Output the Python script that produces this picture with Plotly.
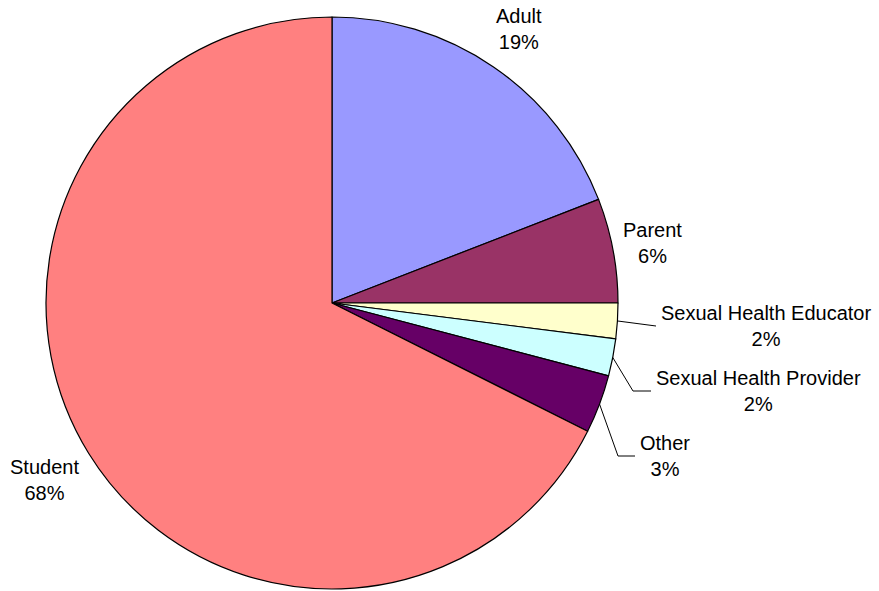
import math
import plotly.graph_objects as go

# Share of respondents by role (percent)
categories = ["Adult", "Parent", "Sexual Health Educator", "Sexual Health Provider", "Other", "Student"]
shares = [19.1, 5.9, 2.0, 2.1, 3.3, 67.6]
colors = ["#9999FF", "#993366", "#FFFFCC", "#CCFFFF", "#660066", "#FF8080"]

W, H = 879, 591
CX, CY, R = 332, 303, 286  # pie centre and radius in pixels

# Label placement: ("radial", factor) puts the label along the slice's mid-angle;
# ("leader", elbow, end) draws a leader line from the slice edge to the label.
label_layout = {
    "Adult": ("radial", 1.16),
    "Parent": ("radial", 1.14),
    "Student": ("radial", 1.18),
    "Sexual Health Educator": ("leader", None, (656, 326)),
    "Sexual Health Provider": ("leader", (633, 391), (651, 391)),
    "Other": ("leader", (618, 456), (635, 456)),
}


def px_to_paper(x, y):
    return x / W, 1 - y / H


def polar(theta_deg, r):
    t = math.radians(theta_deg)
    return CX + r * math.sin(t), CY - r * math.cos(t)


fig = go.Figure(
    go.Pie(
        labels=categories,
        values=shares,
        sort=False,
        direction="clockwise",
        rotation=0,
        marker=dict(colors=colors, line=dict(color="black", width=1.2)),
        textinfo="none",
        hoverinfo="label+percent",
        showlegend=False,
        domain=dict(
            x=[(CX - R) / W, (CX + R) / W],
            y=[1 - (CY + R) / H, 1 - (CY - R) / H],
        ),
    )
)

total = sum(shares)
cum = 0.0
annotations, shapes = [], []
font = dict(family="Liberation Sans, Arial, sans-serif", size=20, color="black")
for name, v in zip(categories, shares):
    mid = (cum + v / 2) / total * 360
    cum += v
    text = f"{name}<br>{round(v / total * 100)}%"
    spec = label_layout[name]
    if spec[0] == "radial":
        lx, ly = polar(mid, R * spec[1])
        ax, ay = px_to_paper(lx, ly)
        annotations.append(dict(x=ax, y=ay, xref="paper", yref="paper", text=text,
                                showarrow=False, font=font, align="center",
                                xanchor="center", yanchor="middle"))
    else:
        _, elbow, end = spec
        pts = [polar(mid, R)]
        if elbow is not None:
            pts.append(elbow)
        pts.append(end)
        for (x0, y0), (x1, y1) in zip(pts[:-1], pts[1:]):
            p0, p1 = px_to_paper(x0, y0), px_to_paper(x1, y1)
            shapes.append(dict(type="line", xref="paper", yref="paper",
                               x0=p0[0], y0=p0[1], x1=p1[0], y1=p1[1],
                               line=dict(color="black", width=1)))
        ax, ay = px_to_paper(end[0] + 3, end[1])
        annotations.append(dict(x=ax, y=ay, xref="paper", yref="paper", text=text,
                                showarrow=False, font=font, align="center",
                                xanchor="left", yanchor="middle"))

fig.update_layout(
    width=W,
    height=H,
    margin=dict(l=0, r=0, t=0, b=0),
    paper_bgcolor="white",
    plot_bgcolor="white",
    annotations=annotations,
    shapes=shapes,
)

fig.write_html("out.html")
